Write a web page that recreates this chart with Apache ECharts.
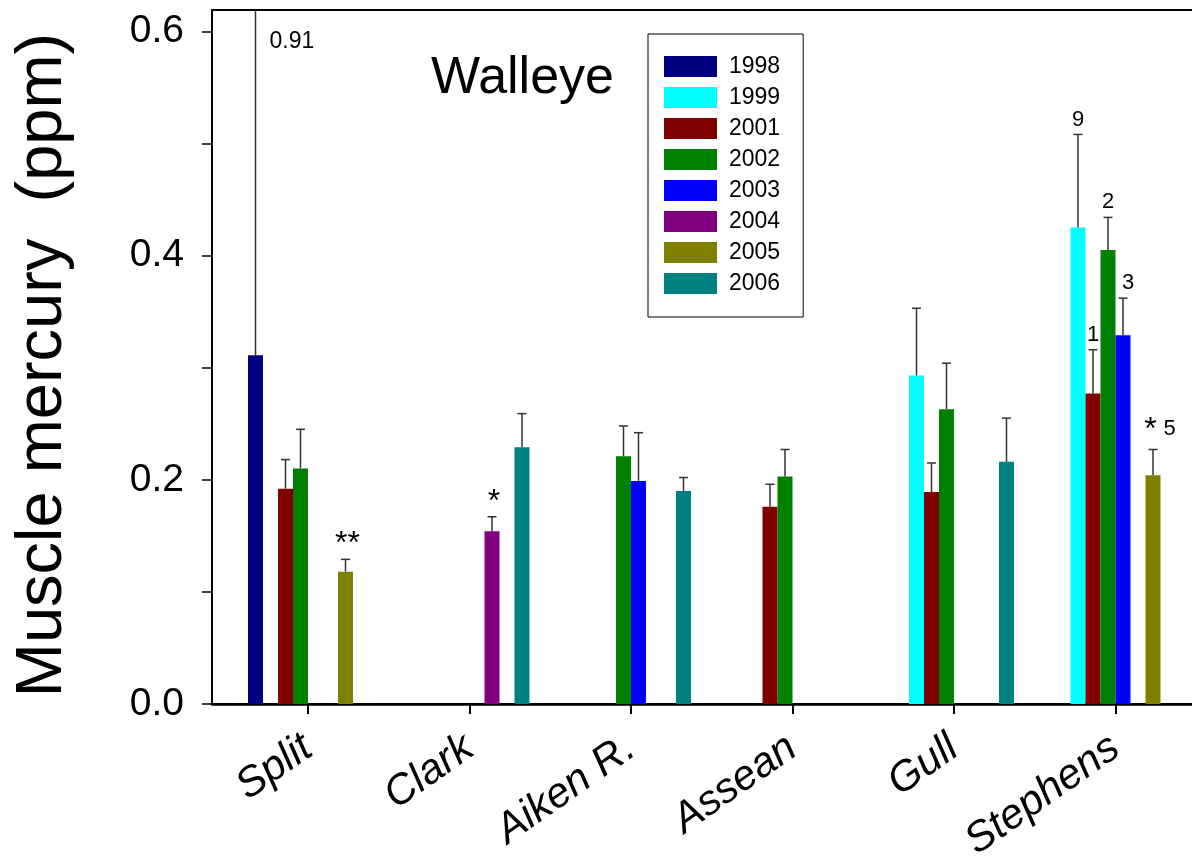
<!DOCTYPE html>
<html>
<head>
<meta charset="utf-8">
<script src="https://cdn.jsdelivr.net/npm/echarts@6/dist/echarts.min.js"></script>
<style>
html,body{margin:0;padding:0;background:#fff;}
#chart{width:1192px;height:865px;}
</style>
</head>
<body>
<div id="chart"></div>
<script>
// ---- data ----
const categories = ['Split', 'Clark', 'Aiken R.', 'Assean', 'Gull', 'Stephens'];
const years = ['1998', '1999', '2001', '2002', '2003', '2004', '2005', '2006'];
const yearColors = ['#000080', '#00ffff', '#800000', '#008000', '#0000ff', '#800080', '#808000', '#008080'];
// mean muscle mercury (ppm) per lake; null = no sample
const mean1998 = [0.311, null, null, null, null, null];
const mean1999 = [null, null, null, null, 0.293, 0.425];
const mean2001 = [0.192, null, null, 0.176, 0.189, 0.277];
const mean2002 = [0.210, null, 0.221, 0.203, 0.263, 0.405];
const mean2003 = [null, null, 0.199, null, null, 0.329];
const mean2004 = [null, 0.154, null, null, null, null];
const mean2005 = [0.118, null, null, null, null, 0.204];
const mean2006 = [null, 0.229, 0.190, null, 0.216, null];
// upper end of the error bars
const errTop1998 = [0.91, null, null, null, null, null];
const errTop1999 = [null, null, null, null, 0.353, 0.508];
const errTop2001 = [0.218, null, null, 0.196, 0.215, 0.316];
const errTop2002 = [0.245, null, 0.248, 0.227, 0.304, 0.434];
const errTop2003 = [null, null, 0.242, null, null, 0.362];
const errTop2004 = [null, 0.167, null, null, null, null];
const errTop2005 = [0.129, null, null, null, null, 0.227];
const errTop2006 = [null, 0.259, 0.202, null, 0.255, null];
// annotations above error bars
const note1998 = ['0.91', '', '', '', '', ''];
const note1999 = ['', '', '', '', '', '9'];
const note2001 = ['', '', '', '', '', '1'];
const note2002 = ['', '', '', '', '', '2'];
const note2003 = ['', '', '', '', '', '3'];
const note2004 = ['', '*', '', '', '', ''];
const note2005 = ['**', '', '', '', '', '* 5'];
const note2006 = ['', '', '', '', '', ''];
const yTicks = ['0.0', '0.2', '0.4', '0.6'];

const means = [mean1998, mean1999, mean2001, mean2002, mean2003, mean2004, mean2005, mean2006];
const errTops = [errTop1998, errTop1999, errTop2001, errTop2002, errTop2003, errTop2004, errTop2005, errTop2006];
const notes = [note1998, note1999, note2001, note2002, note2003, note2004, note2005, note2006];

const Y_MAX = 0.619;
const BAR_W = 15;
const FONT = 'Liberation Sans, Arial, sans-serif';

const errData = [];
const errNotes = [];
means.forEach((arr, yi) => {
  arr.forEach((v, ci) => {
    if (v != null) {
      errData.push([ci, yi, v, errTops[yi][ci]]);
      errNotes.push(notes[yi][ci]);
    }
  });
});

const barSeries = years.map((y, yi) => ({
  name: y,
  type: 'bar',
  xAxisIndex: 1,
  yAxisIndex: 1,
  barWidth: BAR_W,
  barGap: '0%',
  itemStyle: { color: yearColors[yi] },
  data: means[yi].map(v => (v == null ? '-' : v)),
  animation: false,
  z: 2
}));

const errSeries = {
  type: 'custom',
  xAxisIndex: 1,
  yAxisIndex: 1,
  clip: true,
  z: 3,
  animation: false,
  silent: true,
  data: errData,
  encode: { x: 0, y: 3 },
  renderItem: function (params, api) {
    const ci = api.value(0), yi = api.value(1), m = api.value(2), top = api.value(3);
    const base = api.coord([ci, m]);
    const t = api.coord([ci, top]);
    const x = base[0] + (yi - 3.5) * BAR_W;
    const cs = params.coordSys;
    const children = [
      { type: 'line', shape: { x1: x, y1: base[1], x2: x, y2: t[1] }, style: { stroke: '#333', lineWidth: 1.5 } }
    ];
    const overflow = top > Y_MAX;
    if (!overflow) {
      children.push({ type: 'line', shape: { x1: x - 4.5, y1: t[1], x2: x + 4.5, y2: t[1] }, style: { stroke: '#333', lineWidth: 1.5 } });
    }
    const note = errNotes[params.dataIndex];
    if (note) {
      if (overflow) {
        children.push({ type: 'text', style: { text: note, x: x + 14, y: cs.y + 32, fill: '#000', font: '23px ' + FONT, align: 'left', verticalAlign: 'middle' } });
      } else if (note.indexOf('*') === 0 && note.length > 2) {
        children.push({ type: 'text', style: { text: '{a|*}  {n|' + note.slice(2) + '}', x: x + 7, y: t[1] - 3, align: 'center', verticalAlign: 'bottom',
          rich: { a: { fontSize: 32, fontFamily: FONT, fill: '#000', verticalAlign: 'top', padding: [4, 0, 0, 0] }, n: { fontSize: 22, fontFamily: FONT, fill: '#000' } } } });
      } else if (note.indexOf('*') === 0) {
        children.push({ type: 'text', style: { text: note, x: x + 2, y: t[1] + 1, fill: '#000', font: '32px ' + FONT, align: 'center', verticalAlign: 'bottom' } });
      } else {
        children.push({ type: 'text', style: { text: note, x: x + (note === '3' ? 5 : 0), y: t[1] - 4, fill: '#000', font: '22px ' + FONT, align: 'center', verticalAlign: 'bottom' } });
      }
    }
    return { type: 'group', children: children };
  }
};

const option = {
  backgroundColor: '#fff',
  animation: false,
  title: {
    text: 'Walleye',
    left: 426,
    top: 48,
    textStyle: { fontFamily: FONT, fontSize: 52, fontWeight: 'normal', color: '#000' }
  },
  legend: {
    orient: 'vertical',
    left: 648,
    top: 34,
    padding: [21, 23, 22, 16],
    itemWidth: 53,
    itemHeight: 21,
    itemGap: 8,
    icon: 'rect',
    backgroundColor: '#fff',
    borderColor: '#000',
    borderWidth: 1,
    data: years,
    textStyle: { fontFamily: FONT, fontSize: 23, color: '#000', padding: [0, 0, 0, 7] }
  },
  grid: [
    { left: 212, top: 10, width: 1000, bottom: 161, outerBoundsMode: 'none', containLabel: false, show: true, borderColor: '#000', borderWidth: 2, backgroundColor: 'transparent' },
    { left: 227.25, top: 10, width: 969, bottom: 161, outerBoundsMode: 'none', containLabel: false }
  ],
  xAxis: [
    {
      type: 'value', gridIndex: 0, min: 0, max: 1,
      axisLine: { show: true, lineStyle: { color: '#000', width: 2.5 } },
      axisTick: { show: false }, axisLabel: { show: false }, splitLine: { show: false }
    },
    {
      type: 'category', gridIndex: 1, data: categories,
      axisLine: { show: false },
      axisTick: { show: true, alignWithLabel: true, length: 10, lineStyle: { color: '#000', width: 2 } },
      axisLabel: { rotate: 35, margin: 40, fontFamily: FONT, fontSize: 42, fontStyle: 'italic', color: '#000' },
      splitLine: { show: false }
    }
  ],
  yAxis: [
    {
      type: 'value', gridIndex: 0, min: 0, max: Y_MAX, interval: 0.1,
      name: 'Muscle mercury  (ppm)',
      nameLocation: 'middle',
      nameGap: 136,
      nameTextStyle: { fontFamily: FONT, fontSize: 65, color: '#000', padding: [0, 16, 0, 0] },
      axisLine: { show: true, lineStyle: { color: '#000', width: 2 } },
      axisTick: { show: true, length: 10, lineStyle: { color: '#000', width: 1.5 } },
      axisLabel: {
        margin: 28, fontFamily: FONT, fontSize: 39, color: '#000', showMaxLabel: false,
        formatter: function (v) {
          const lbl = v.toFixed(1);
          return yTicks.indexOf(lbl) >= 0 && Math.abs(v - parseFloat(lbl)) < 1e-6 ? lbl : '';
        }
      },
      splitLine: { show: false }
    },
    { type: 'value', gridIndex: 1, min: 0, max: Y_MAX, show: false, splitLine: { show: false } }
  ],
  series: barSeries.concat([errSeries])
};

const chart = echarts.init(document.getElementById('chart'), null, { renderer: 'canvas' });
chart.setOption(option);
</script>
</body>
</html>
